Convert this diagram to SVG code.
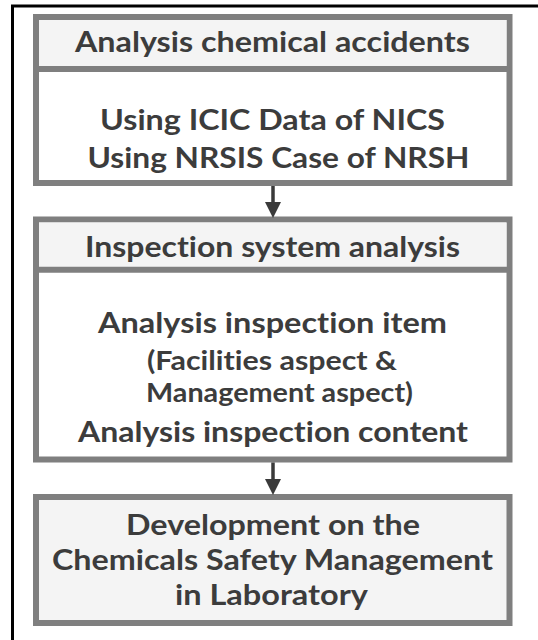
<svg xmlns="http://www.w3.org/2000/svg" width="538" height="640" viewBox="0 0 538 640">
  <defs>
    <style>
      .frame { fill: #ffffff; stroke: #000000; stroke-width: 3; }
      .box { fill: #ffffff; stroke: #7f7f7f; stroke-width: 6; }
      .band { fill: #f4f4f4; stroke: none; }
      .divider { stroke: #7f7f7f; stroke-width: 6; }
      .link { stroke: #3a3a3a; stroke-width: 3.5; fill: none; }
      text { font-family: Lato, "Open Sans", "DejaVu Sans", sans-serif; font-weight: bold; fill: #3c3c3c; text-anchor: middle; font-variant-ligatures: none; }
      .big { font-size: 29px; }
      .small { font-size: 26px; }
    </style>
    <marker id="head" markerUnits="userSpaceOnUse" markerWidth="16" markerHeight="16" refX="0" refY="8" orient="auto">
      <path d="M0,0 L16,8 L0,16 Z" fill="#3a3a3a"/>
    </marker>
  </defs>

  <rect width="538" height="640" fill="#ffffff"/>
  <!-- outer frame, running off the right and bottom edges -->
  <rect class="frame" x="12.5" y="6" width="540" height="650"/>

  <!-- step 1 -->
  <g id="node-accidents">
    <rect class="box" x="36" y="17" width="473.5" height="166"/>
    <rect class="band" x="39" y="20" width="467.5" height="49"/>
    <line class="divider" x1="36" y1="69" x2="509.5" y2="69"/>
    <text class="big" x="272.5" y="52" textLength="395" lengthAdjust="spacingAndGlyphs">Analysis chemical accidents</text>
    <text class="big" x="272.5" y="130" textLength="345" lengthAdjust="spacingAndGlyphs">Using ICIC Data of NICS</text>
    <text class="big" x="278.5" y="168" textLength="382" lengthAdjust="spacingAndGlyphs">Using NRSIS Case of NRSH</text>
  </g>

  <!-- step 2 -->
  <g id="node-inspection">
    <rect class="box" x="36" y="219.5" width="473.5" height="240"/>
    <rect class="band" x="39" y="222.5" width="467.5" height="47"/>
    <line class="divider" x1="36" y1="269.7" x2="509.5" y2="269.7"/>
    <text class="big" x="272.5" y="256.5" textLength="375" lengthAdjust="spacingAndGlyphs">Inspection system analysis</text>
    <text class="big" x="272.5" y="333" textLength="349" lengthAdjust="spacingAndGlyphs">Analysis inspection item</text>
    <text class="small" x="272" y="370" textLength="250" lengthAdjust="spacingAndGlyphs">(Facilities aspect &amp;</text>
    <text class="small" x="279.5" y="402" textLength="267" lengthAdjust="spacingAndGlyphs">Management aspect)</text>
    <text class="big" x="273" y="441.5" textLength="390" lengthAdjust="spacingAndGlyphs">Analysis inspection content</text>
  </g>

  <!-- step 3 -->
  <g id="node-development">
    <rect class="box" x="36" y="497" width="473.5" height="126" style="fill:#f4f4f4"/>
    <text class="big" x="273" y="535" textLength="294" lengthAdjust="spacingAndGlyphs">Development on the</text>
    <text class="big" x="272.5" y="570" textLength="441" lengthAdjust="spacingAndGlyphs">Chemicals Safety Management</text>
    <text class="big" x="271.5" y="605" textLength="193" lengthAdjust="spacingAndGlyphs">in Laboratory</text>
  </g>

  <!-- connectors -->
  <g id="connectors">
    <line class="link" x1="273" y1="186" x2="273" y2="202" marker-end="url(#head)"/>
    <line class="link" x1="273" y1="462.5" x2="273" y2="479" marker-end="url(#head)"/>
  </g>
</svg>
